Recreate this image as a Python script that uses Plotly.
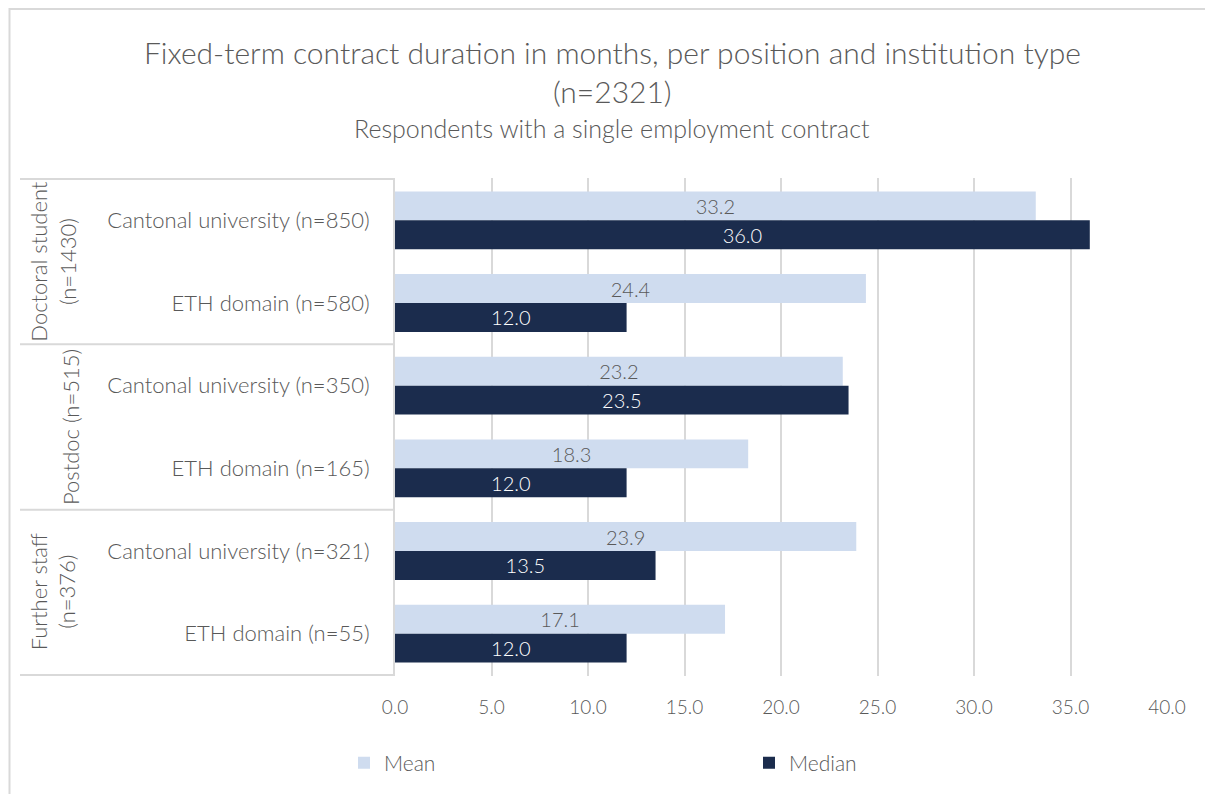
import plotly.graph_objects as go

categories = [
    "Cantonal university (n=850)",
    "ETH domain (n=580)",
    "Cantonal university (n=350)",
    "ETH domain (n=165)",
    "Cantonal university (n=321)",
    "ETH domain (n=55)",
]
groups = ["Doctoral student<br>(n=1430)", "Postdoc (n=515)", "Further staff<br>(n=376)"]
mean_values = [33.2, 24.4, 23.2, 18.3, 23.9, 17.1]
median_values = [36.0, 12.0, 23.5, 12.0, 13.5, 12.0]

FONT = "Lato"
GREY = "#595959"
LINE = "#D9D9D9"

OFF = 8  # page body margin
W, H = 1213 - OFF, 794 - OFF
# desired plot area in screen pixels
SX0, SX1, SY0, SY1 = 395, 1167, 178, 676
L = SX0 - OFF
T = SY0 - OFF
R = W - (SX1 - OFF)
B = H - (SY1 - OFF)
PW, PH = SX1 - SX0, SY1 - SY0

def px_x(x):
    return (x - SX0) / PW

def px_y(y):
    return (SY1 - y) / PH

fig = go.Figure()
fig.add_trace(go.Bar(
    y=categories, x=mean_values, name="Mean", orientation="h",
    marker=dict(color="#CFDCEF", line=dict(width=0)),
    texttemplate="%{x:.1f}", textposition="inside", insidetextanchor="middle",
    textangle=0, constraintext="none",
    textfont=dict(color=GREY, size=20, family=FONT, weight=300),
))
fig.add_trace(go.Bar(
    y=categories, x=median_values, name="Median", orientation="h",
    marker=dict(color="#1B2C4D", line=dict(width=0)),
    texttemplate="%{x:.1f}", textposition="inside", insidetextanchor="middle",
    textangle=0, constraintext="none",
    textfont=dict(color="white", size=20, family=FONT, weight=300),
))

shapes = []
# outer border
shapes.append(dict(type="rect", xref="paper", yref="paper",
                   x0=px_x(9.5), x1=px_x(1260), y0=px_y(9), y1=px_y(840),
                   line=dict(color=LINE, width=2), fillcolor="rgba(0,0,0,0)", layer="below"))
# group dividers
for yv in [-0.5, 1.5, 3.5, 5.5]:
    shapes.append(dict(type="line", xref="paper", yref="y",
                       x0=px_x(20), x1=0, y0=yv, y1=yv,
                       line=dict(color=LINE, width=2)))

annotations = []
title_x = px_x(612)
annotations.append(dict(text="Fixed-term contract duration in months, per position and institution type",
                        xref="paper", yref="paper", x=title_x, y=px_y(52), showarrow=False,
                        xanchor="center", yanchor="middle",
                        font=dict(size=30, color=GREY, family=FONT, weight=300)))
annotations.append(dict(text="(n=2321)", xref="paper", yref="paper", x=title_x, y=px_y(91),
                        showarrow=False, xanchor="center", yanchor="middle",
                        font=dict(size=30, color=GREY, family=FONT, weight=300)))
annotations.append(dict(text="Respondents with a single employment contract", xref="paper", yref="paper",
                        x=title_x, y=px_y(128), showarrow=False, xanchor="center", yanchor="middle",
                        font=dict(size=25, color=GREY, family=FONT, weight=300)))

group_pos = [(0.5, 53), (2.5, 70), (4.5, 53)]
for g, (yc, xc) in zip(groups, group_pos):
    annotations.append(dict(text=g, xref="paper", yref="y", x=px_x(xc), y=yc,
                            showarrow=False, textangle=-90, xanchor="center", yanchor="middle",
                            font=dict(size=22, color=GREY, family=FONT, weight=300)))

fig.update_layout(
    width=W, height=H,
    margin=dict(l=L, r=R, t=T, b=B, autoexpand=False),
    paper_bgcolor="white", plot_bgcolor="white",
    barmode="group", bargap=0.30, bargroupgap=0,
    font=dict(family=FONT, color=GREY, size=19, weight=300),
    xaxis=dict(range=[0, 40], dtick=5, tick0=0, tickformat=".1f",
               showgrid=True, gridcolor=LINE, gridwidth=2, zeroline=False,
               showline=False, ticks="", ticklabelstandoff=18,
               tickfont=dict(size=19, color=GREY, family=FONT, weight=300), fixedrange=True),
    yaxis=dict(type="category", autorange="reversed", showgrid=False,
               showline=True, linecolor=LINE, linewidth=2, ticks="",
               ticklabelstandoff=19,
               tickfont=dict(size=22, color=GREY, family=FONT, weight=300)),
    legend=dict(orientation="h", x=px_x(344), y=px_y(763), xanchor="left", yanchor="middle",
                entrywidth=360, entrywidthmode="pixels",
                font=dict(size=21, color=GREY, family=FONT, weight=300),
                itemwidth=30, traceorder="normal"),
    shapes=shapes, annotations=annotations,
    showlegend=True,
)

fig.write_html("out.html")
